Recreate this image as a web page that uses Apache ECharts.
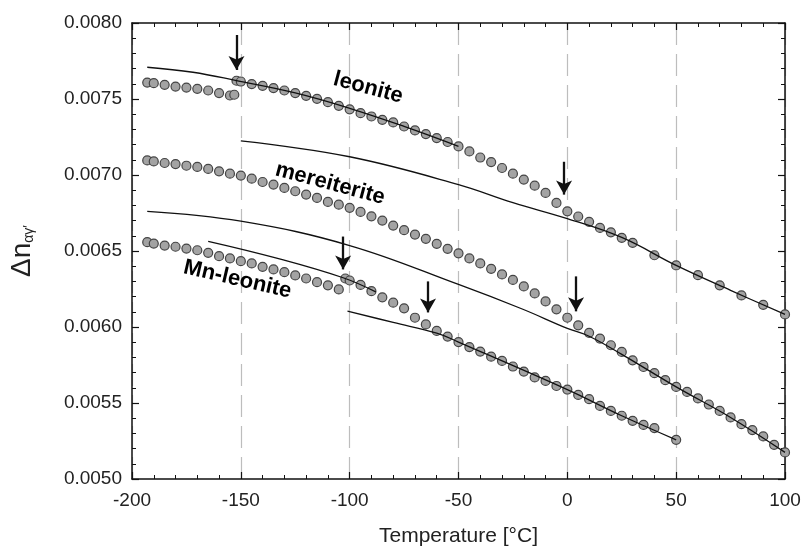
<!DOCTYPE html>
<html><head><meta charset="utf-8">
<script src="https://cdn.jsdelivr.net/npm/echarts@6/dist/echarts.min.js"></script>
<style>html,body{margin:0;padding:0;background:#fff}#c{width:805px;height:555px}</style>
</head><body><div id="c"></div>
<script>
// ---- data ----
var leoniteLowT = [-193,-190,-185,-180,-175,-170,-165,-160,-155,-153];
var leoniteLowV = [0.007608,0.007604,0.007593,0.007582,0.007575,0.007567,0.007556,0.007539,0.007523,0.007528];
var leoniteHighT = [-152,-150,-145,-140,-135,-130,-125,-120,-115,-110,-105,-100,-95,-90,-85,-80,-75,-70,-65,-60,-55,-50,-45,-40,-35,-30,-25,-20,-15,-10,-5,0,5,10,15,20,25,30,40,50,60,70,80,90,100];
var leoniteHighV = [0.007620,0.007615,0.007598,0.007587,0.007572,0.007556,0.007539,0.007521,0.007501,0.007479,0.007455,0.007432,0.007407,0.007385,0.007363,0.007346,0.007319,0.007293,0.007269,0.007243,0.007217,0.007188,0.007155,0.007115,0.007085,0.007046,0.007009,0.006970,0.006930,0.006882,0.006816,0.006761,0.006727,0.006692,0.006652,0.006623,0.006587,0.006554,0.006472,0.006405,0.006341,0.006274,0.006208,0.006146,0.006083];
var mereiteriteT = [-193,-190,-185,-180,-175,-170,-165,-160,-155,-150,-145,-140,-135,-130,-125,-120,-115,-110,-105,-100,-95,-90,-85,-80,-75,-70,-65,-60,-55,-50,-45,-40,-35,-30,-25,-20,-15,-10,-5,0,5,10,15,20,25,30,35,40,45,50,55,60,65,70,75,80,85,90,95,100];
var mereiteriteV = [0.007096,0.007089,0.007079,0.007072,0.007061,0.007053,0.007040,0.007024,0.007009,0.006996,0.006976,0.006954,0.006937,0.006915,0.006893,0.006871,0.006849,0.006823,0.006805,0.006784,0.006757,0.006728,0.006700,0.006667,0.006637,0.006608,0.006580,0.006547,0.006514,0.006485,0.006451,0.006418,0.006383,0.006346,0.006310,0.006267,0.006221,0.006168,0.006116,0.006061,0.006011,0.005962,0.005924,0.005880,0.005836,0.005781,0.005737,0.005696,0.005650,0.005606,0.005573,0.005530,0.005490,0.005448,0.005405,0.005361,0.005322,0.005280,0.005225,0.005175];
var mnLowT = [-193,-190,-185,-180,-175,-170,-165,-160,-155,-150,-145,-140,-135,-130,-125,-120,-115,-110,-105];
var mnLowV = [0.006558,0.006549,0.006536,0.006528,0.006516,0.006505,0.006488,0.006466,0.006451,0.006433,0.006418,0.006396,0.006379,0.006361,0.006339,0.006319,0.006295,0.006274,0.006247];
var mnHighT = [-102,-100,-95,-90,-85,-80,-75,-70,-65,-60,-55,-50,-45,-40,-35,-30,-25,-20,-15,-10,-5,0,5,10,15,20,25,30,35,40,50];
var mnHighV = [0.006319,0.006306,0.006277,0.006236,0.006195,0.006160,0.006123,0.006061,0.006017,0.005974,0.005937,0.005901,0.005868,0.005838,0.005805,0.005777,0.005740,0.005707,0.005668,0.005645,0.005612,0.005588,0.005553,0.005525,0.005481,0.005448,0.005416,0.005383,0.005356,0.005335,0.005258];
// fitted curves
var leoniteFitAT = [-193,-172,-152,-125,-100,-75,-50];
var leoniteFitAV = [0.007709,0.007676,0.007621,0.007540,0.007439,0.007320,0.007189];
var leoniteFitBT = [-150,-100,-50,-25,0,25,50,75,100];
var leoniteFitBV = [0.007225,0.007120,0.006937,0.006818,0.006713,0.006589,0.006405,0.006241,0.006083];
var merFitT = [-193,-150,-100,-50,-21,0,10,25,50,75,100];
var merFitV = [0.006761,0.006696,0.006536,0.006280,0.006120,0.005991,0.005939,0.005820,0.005606,0.005405,0.005175];
var mnFitAT = [-165,-134,-103,-88];
var mnFitAV = [0.006564,0.006455,0.006324,0.006231];
var mnFitBT = [-101,-80,-60,-50,0,25,50];
var mnFitBV = [0.006105,0.006030,0.005960,0.005901,0.005588,0.005416,0.005258];
// arrows: [T, start value, tip value]
var arrows = [[-152,0.007921,0.007691],[-1.5,0.007087,0.006871],[4,0.006333,0.006103],[-103,0.006595,0.006379],[-64,0.006300,0.006096]];
// text annotations: [text, T, value, rotation]
var notes = [['leonite',-91.5,0.007573,-15],['mereiterite',-109,0.006943,-15],['Mn-leonite',-151.5,0.006313,-13]];

function pts(t,v){return t.map(function(x,i){return [x,v[i]];});}
var font = 'Liberation Sans, Arial, sans-serif';
var scatterStyle = {color:'#a3a3a3',borderColor:'#444',borderWidth:1.2,opacity:1};
function scat(t,v){return {type:'scatter',data:pts(t,v),symbol:'circle',symbolSize:9,itemStyle:scatterStyle,z:2,silent:true};}
function fit(t,v){return {type:'line',data:pts(t,v),smooth:0.4,showSymbol:false,lineStyle:{color:'#111',width:1.3},z:3,silent:true};}

var axisCommon = {
  min:-200,max:100,interval:50,
  axisLine:{onZero:false,lineStyle:{color:'#111',width:1.5}},
  axisTick:{inside:true,length:7,lineStyle:{color:'#111',width:1.2}},
  minorTick:{show:true,splitNumber:5,length:4,lineStyle:{color:'#111',width:1}}
};
var yCommon = {
  type:'value',min:0.005,max:0.008,interval:0.0005,
  axisLine:{show:true,onZero:false,lineStyle:{color:'#111',width:1.5}},
  axisTick:{show:true,inside:true,length:7,lineStyle:{color:'#111',width:1.2}},
  minorTick:{show:true,splitNumber:5,length:4,lineStyle:{color:'#111',width:1}},
  splitLine:{show:false}
};
var chart = echarts.init(document.getElementById('c'),null,{renderer:'canvas'});
var arrowSeries = {type:'line',data:[],silent:true,z:4,
  markLine:{silent:true,animation:false,symbol:['none','arrow'],symbolSize:[12,14],label:{show:false},
    lineStyle:{color:'#111',width:2.3,type:'solid'},
    data:arrows.map(function(a){return [{coord:[a[0],a[1]]},{coord:[a[0],a[2]]}];})}};
var noteSeries = {type:'scatter',symbolSize:0,silent:true,z:5,itemStyle:{opacity:1},
  data:notes.map(function(n){return {value:[n[1],n[2]],name:n[0],label:{rotate:n[3]}};}),
  label:{show:true,position:'inside',formatter:function(p){return p.name;},fontFamily:font,fontWeight:'bold',fontSize:22,color:'#000',opacity:1}};

chart.setOption({
  animation:false,
  backgroundColor:'#fff',
  grid:{left:129,right:20,top:23,bottom:76},
  xAxis:[
    Object.assign({},axisCommon,{type:'value',position:'bottom',
      axisLabel:{fontFamily:font,fontSize:19,color:'#222',margin:12},
      splitLine:{show:true,lineStyle:{color:'#bdbdbd',width:1.2,type:[22,9]}},
      name:'Temperature [°C]',nameLocation:'middle',nameGap:47,nameTextStyle:{fontFamily:font,fontSize:21,color:'#222'}}),
    Object.assign({},axisCommon,{type:'value',position:'top',axisLabel:{show:false},splitLine:{show:false}})
  ],
  yAxis:[
    Object.assign({},yCommon,{position:'left',
      axisLabel:{fontFamily:font,fontSize:19,color:'#222',margin:10,formatter:function(v){return v.toFixed(4);}},
      name:'{a|Δn}{b|αγ\u2032}',nameLocation:'middle',nameRotate:90,nameGap:96,
      nameTextStyle:{rich:{a:{fontFamily:font,fontSize:28,color:'#222'},b:{fontFamily:font,fontSize:14,color:'#222',verticalAlign:'bottom',padding:[12,0,0,0]}}}}),
    Object.assign({},yCommon,{position:'right',axisLabel:{show:false}})
  ],
  series:[
    scat(leoniteLowT,leoniteLowV),
    scat(leoniteHighT,leoniteHighV),
    scat(mereiteriteT,mereiteriteV),
    scat(mnLowT,mnLowV),
    scat(mnHighT,mnHighV),
    fit(leoniteFitAT,leoniteFitAV),
    fit(leoniteFitBT,leoniteFitBV),
    fit(merFitT,merFitV),
    fit(mnFitAT,mnFitAV),
    fit(mnFitBT,mnFitBV),
    arrowSeries,
    noteSeries
  ]
});
</script></body></html>
